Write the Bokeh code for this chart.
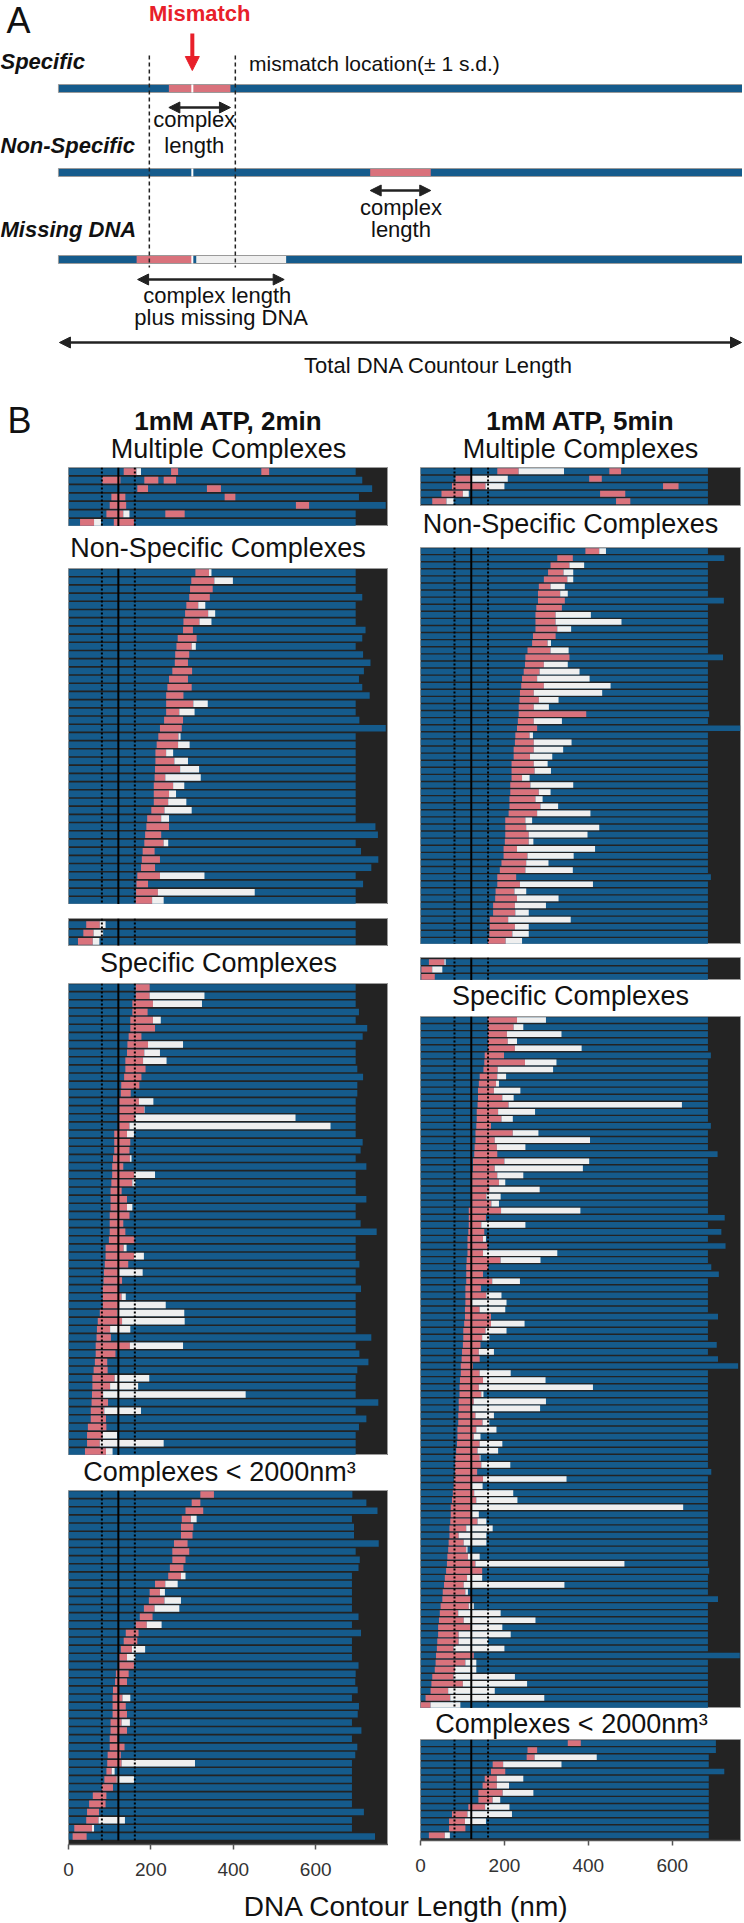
from bokeh.plotting import figure
from bokeh.models import Range1d, FixedTicker, Arrow, NormalHead, Spacer
from bokeh.layouts import column, row
from bokeh.embed import file_html
from bokeh.resources import INLINE
from bokeh.core.properties import value

# ---------------- colours / fonts ----------------
BLUE = "#155b8c"
PINK = "#d9727c"
WHITE = "#efefef"
DARK = "#232323"
RED = "#e8202a"
FONT = "Liberation Sans"
MID = 0.35   # distance from baseline to text middle, in em

# ---------------- data ----------------
MM_MEAN = 121      # mismatch location (nm)
MM_SD = 40         # +- 1 s.d. (nm)
TICKS = [0, 200, 400, 600]

# Panel A schematic (arbitrary contour units)
SCH_TOTAL = 700
SCH_MISMATCH = 137
SCH_SD = 44
SCH_SPEC = (113, 176)
SCH_NONSPEC = (319, 381)
SCH_MISS_COMPLEX = (80, 137)
SCH_MISS_GAP = (141, 233)

# 2 min, multiple complexes (segments)
LM_row = [0, 0, 0, 0, 1, 1, 1, 2, 2, 3, 3, 4, 4, 5, 5, 5, 6, 6, 6]
LM_left = [134, 165, 249, 468, 82, 184, 231, 167, 336, 104, 379, 100, 552, 92, 133, 235, 28, 62, 110]
LM_right = [165, 176, 266, 487, 126, 218, 261, 193, 370, 138, 405, 140, 584, 133, 148, 282, 62, 79, 159]
LM_kind = ["c", "m", "c", "c", "c", "c", "c", "c", "c", "c", "c", "c", "c", "c", "m", "c", "c", "m", "c"]
LM_dna = [697, 713, 737, 705, 770, 697, 697]

# 2 min, non-specific complexes
LNS_start = [308, 298, 295, 293, 286, 283, 279, 278, 265, 262, 259, 258, 252, 244, 240, 237, 237, 237, 232, 222,
             218, 214, 211, 211, 210, 209, 207, 207, 207, 201, 191, 189, 186, 184, 180, 178, 176, 167, 165, 164, 163]
LNS_cend = [341, 354, 350, 343, 315, 339, 318, 302, 311, 299, 293, 290, 300, 290, 299, 279, 303, 269, 278, 275,
            267, 266, 237, 257, 271, 235, 254, 244, 242, 233, 225, 244, 225, 231, 209, 222, 210, 222, 193, 217, 203]
LNS_mend = [347, 399, 350, 343, 332, 356, 347, 302, 311, 309, 293, 290, 300, 290, 299, 279, 338, 306, 278, 275,
            272, 294, 254, 290, 317, 321, 281, 261, 286, 299, 244, 244, 225, 242, 209, 222, 210, 330, 193, 452, 231]
LNS_dna = [697, 697, 697, 713, 697, 697, 697, 721, 713, 697, 715, 733, 717, 705, 713, 731, 697, 697, 706, 770,
           697, 697, 697, 697, 697, 697, 697, 697, 697, 697, 697, 745, 751, 697, 710, 752, 735, 697, 715, 697, 697]

# 2 min, small group
LSM_start = [43, 36, 23]
LSM_cend = [76, 61, 59]
LSM_mend = [90, 84, 75]
LSM_dna = [697, 697, 697]

# 2 min, specific complexes
LSP_start = [163, 163, 155, 155, 150, 150, 146, 143, 142, 138, 138, 135, 128, 127, 123, 123, 123, 123, 111, 111,
             111, 108, 106, 106, 104, 102, 102, 102, 100, 100, 100, 98, 90, 90, 88, 86, 85, 83, 83, 83,
             76, 71, 69, 68, 66, 66, 64, 61, 58, 58, 57, 56, 54, 54, 47, 45, 45, 40]
LSP_cend = [197, 197, 205, 192, 205, 210, 177, 193, 184, 181, 187, 177, 172, 151, 171, 184, 162, 148, 142, 150,
            148, 149, 133, 159, 155, 129, 142, 142, 148, 133, 138, 160, 134, 159, 145, 123, 130, 123, 129, 123,
            118, 130, 101, 103, 149, 114, 94, 95, 112, 101, 84, 96, 87, 91, 92, 83, 76, 91]
LSP_mend = [197, 330, 324, 192, 224, 210, 177, 278, 222, 238, 187, 177, 172, 151, 206, 185, 551, 636, 159, 150,
            148, 153, 133, 210, 162, 129, 142, 155, 148, 133, 138, 160, 141, 183, 145, 180, 130, 123, 139, 236,
            281, 282, 150, 103, 278, 114, 94, 95, 196, 169, 430, 96, 176, 91, 92, 118, 231, 107]
LSP_dna = [697, 697, 697, 705, 697, 725, 714, 697, 697, 697, 701, 715, 701, 701, 697, 697, 697, 697, 697, 714,
           709, 697, 723, 697, 697, 697, 723, 697, 697, 709, 748, 697, 697, 697, 706, 697, 697, 710, 697, 697,
           697, 697, 697, 735, 697, 706, 728, 701, 697, 697, 697, 752, 697, 723, 705, 697, 697, 697]

# 2 min, complexes < 2000 nm^3
LB_start = [320, 299, 284, 275, 273, 273, 256, 252, 252, 246, 242, 210, 197, 195, 183, 173, 163, 139, 134, 127,
            123, 123, 115, 113, 108, 107, 107, 107, 102, 102, 100, 100, 95, 94, 92, 87, 81, 59, 50, 45, 43, 14, 10]
LB_cend = [353, 320, 327, 297, 303, 301, 289, 293, 284, 279, 273, 235, 222, 233, 209, 204, 190, 170, 167, 154,
           142, 159, 146, 142, 120, 131, 139, 142, 129, 142, 119, 136, 127, 129, 105, 117, 108, 92, 90, 74, 73, 57, 44]
LB_mend = [353, 320, 327, 311, 303, 301, 289, 293, 284, 279, 284, 265, 234, 273, 269, 204, 226, 170, 167, 186,
           162, 159, 146, 142, 120, 150, 139, 142, 149, 142, 119, 136, 127, 307, 112, 159, 108, 92, 90, 74, 137, 62, 44]
LB_dna = [689, 723, 750, 688, 693, 693, 753, 697, 707, 704, 688, 688, 688, 688, 688, 704, 688, 710, 688, 688,
          688, 704, 697, 696, 702, 688, 705, 702, 688, 711, 688, 701, 696, 688, 688, 688, 688, 688, 688, 717, 688, 688, 744]

# 5 min, multiple complexes (segments)
RM_row = [0, 0, 0, 1, 1, 1, 2, 2, 2, 3, 3, 3, 4, 4, 4]
RM_left = [183, 234, 450, 83, 121, 402, 75, 155, 578, 50, 101, 428, 28, 62, 466]
RM_right = [234, 342, 478, 121, 208, 432, 155, 200, 615, 101, 115, 488, 62, 79, 500]
RM_kind = ["c", "m", "c", "c", "m", "c", "c", "m", "c", "c", "m", "c", "c", "m", "c"]
RM_dna = [685, 685, 685, 685, 685]

# 5 min, non-specific complexes
RNS_start = [393, 326, 310, 304, 294, 282, 280, 280, 276, 274, 274, 274, 268, 266, 255, 250, 249, 246, 242, 240,
             237, 236, 234, 234, 232, 230, 226, 225, 222, 222, 217, 217, 217, 214, 214, 212, 212, 210, 202, 202,
             202, 201, 198, 198, 193, 189, 183, 183, 179, 178, 173, 173, 165, 165, 164, 161]
RNS_cend = [426, 363, 355, 341, 350, 310, 333, 344, 337, 322, 322, 326, 322, 303, 310, 355, 294, 284, 278, 294,
            270, 282, 270, 395, 270, 278, 260, 270, 270, 261, 270, 272, 242, 262, 282, 274, 286, 278, 250, 252,
            258, 258, 230, 255, 252, 250, 228, 237, 224, 230, 225, 226, 209, 225, 219, 203]
RNS_mend = [442, 363, 390, 364, 364, 344, 351, 344, 337, 406, 479, 359, 322, 311, 353, 355, 351, 379, 403, 453,
            433, 329, 306, 395, 337, 278, 268, 360, 340, 314, 303, 311, 260, 364, 310, 291, 328, 405, 266, 426,
            398, 269, 416, 365, 305, 363, 228, 411, 252, 329, 299, 258, 358, 258, 258, 242]
RNS_dna = [685, 724, 685, 685, 685, 685, 685, 723, 685, 685, 685, 685, 685, 685, 685, 721, 685, 685, 685, 685,
           685, 685, 685, 688, 685, 762, 685, 685, 685, 685, 685, 685, 685, 685, 685, 685, 685, 685, 685, 685,
           685, 685, 685, 685, 685, 685, 692, 685, 685, 685, 685, 685, 685, 685, 685, 685]

# 5 min, small group
RSM_start = [20, 2, 2]
RSM_cend = [57, 28, 34]
RSM_mend = [60, 52, 34]
RSM_dna = [685, 685, 685]

# 5 min, specific complexes
RSP_start = [161, 161, 161, 161, 161, 153, 152, 150, 141, 139, 137, 137, 136, 134, 134, 133, 131, 131, 129, 128,
             125, 125, 123, 123, 123, 123, 123, 115, 115, 115, 114, 112, 112, 112, 110, 109, 109, 109, 107, 107,
             107, 106, 106, 104, 102, 102, 101, 99, 98, 96, 96, 94, 93, 93, 91, 91, 90, 90, 88, 88,
             87, 85, 83, 82, 82, 80, 79, 77, 75, 72, 72, 71, 69, 69, 67, 66, 64, 63, 61, 58,
             56, 53, 52, 48, 46, 44, 42, 42, 40, 39, 37, 36, 34, 28, 26, 24, 12, 0]
RSP_cend = [230, 222, 206, 208, 225, 199, 249, 184, 183, 180, 175, 195, 210, 185, 193, 168, 220, 177, 182, 183,
            200, 177, 183, 187, 164, 157, 169, 192, 156, 145, 152, 149, 160, 149, 191, 161, 149, 171, 144, 157,
            123, 141, 168, 168, 155, 147, 143, 139, 141, 125, 141, 149, 139, 145, 127, 121, 131, 148, 133, 127,
            141, 136, 141, 145, 135, 149, 123, 128, 133, 123, 123, 136, 109, 91, 103, 109, 113, 131, 147, 111,
            103, 107, 123, 115, 90, 103, 119, 91, 91, 79, 127, 107, 82, 79, 101, 66, 71, 24]
RSP_mend = [299, 245, 336, 230, 384, 199, 324, 316, 204, 187, 238, 222, 623, 273, 220, 168, 281, 404, 250, 183,
            402, 387, 245, 202, 284, 191, 187, 381, 156, 250, 152, 156, 160, 326, 286, 161, 149, 237, 144, 193,
            205, 202, 168, 248, 205, 164, 143, 175, 141, 125, 215, 298, 411, 150, 299, 285, 175, 164, 181, 143,
            195, 185, 143, 214, 135, 348, 148, 221, 231, 626, 139, 157, 172, 157, 157, 112, 141, 486, 147, 147,
            343, 113, 123, 127, 191, 274, 195, 215, 161, 200, 127, 133, 133, 225, 254, 177, 295, 95]
RSP_dna = [685, 685, 685, 685, 685, 692, 685, 685, 685, 685, 685, 685, 685, 685, 685, 692, 685, 685, 685, 708,
           685, 685, 685, 685, 685, 685, 685, 685, 725, 685, 717, 685, 727, 685, 685, 693, 711, 685, 685, 685,
           685, 685, 709, 685, 685, 685, 706, 685, 709, 757, 685, 685, 685, 685, 685, 685, 685, 685, 685, 685,
           685, 685, 685, 685, 693, 685, 685, 685, 685, 685, 685, 685, 685, 685, 685, 685, 685, 685, 688, 685,
           685, 685, 709, 685, 685, 685, 685, 685, 685, 685, 761, 685, 685, 685, 685, 685, 685, 685]

# 5 min, complexes < 2000 nm^3
RB_start = [351, 255, 253, 172, 168, 153, 148, 138, 138, 114, 75, 68, 68, 20]
RB_cend = [382, 278, 272, 197, 202, 182, 182, 196, 172, 154, 112, 106, 107, 58]
RB_mend = [382, 278, 420, 336, 202, 245, 211, 269, 190, 212, 218, 156, 107, 70]
RB_dna = [704, 704, 687, 687, 724, 687, 687, 687, 687, 687, 687, 687, 687, 687]

# ---------------- scales / layout constants ----------------
L_SCALE = 0.412    # px per nm, left column
R_SCALE = 0.4196   # px per nm, right column
BH = 0.8
FW = 320                       # frame width of every panel
L_ML, L_MR, L_X0 = 68, 0, 0      # left column borders / page origin
R_ML, R_MR, R_X0 = 32, 2, 388    # right column borders / page origin


def txt(p, x, y, t, size, style="normal", align="center", color="#111111"):
    p.text(x=[x], y=[y - MID * size], text=[t], text_font=value(FONT), text_font_size=f"{size}px",
           text_font_style=style, text_align=align, text_baseline="middle", text_color=color)


def band(ml, mr, x0, h, texts):
    # same border structure as the panels below it; x in page pixels
    p = figure(frame_width=FW, frame_height=h, min_border=0, min_border_left=ml, min_border_right=mr,
               x_range=Range1d(x0 + ml, x0 + ml + FW), y_range=Range1d(h, 0),
               toolbar_location=None, output_backend="svg", title=None,
               x_axis_location=None, y_axis_location=None, outline_line_color=None)
    p.grid.visible = False
    for (x, y, t, size, style) in texts:
        txt(p, x, y, t, size, style)
    return p


def mismatch_lines(p, ytop, ybot):
    xs = [MM_MEAN - MM_SD, MM_MEAN + MM_SD]
    p.segment(x0=xs, x1=xs, y0=[ytop, ytop], y1=[ybot, ybot], line_color="black",
              line_width=2, line_dash="2 2")
    p.segment(x0=[MM_MEAN], x1=[MM_MEAN], y0=[ytop], y1=[ybot], line_color="black", line_width=2)


def make_panel(n, H, scale, ml, mr, pt=0.0, pb=0.0, axis=False, mb=0):
    pitch = (H - pt - pb) / n
    ybot = n - 0.5 + pb / pitch
    ytop = -0.5 - pt / pitch
    p = figure(frame_width=FW, frame_height=H, x_range=Range1d(0, FW / scale), y_range=Range1d(ybot, ytop),
               min_border=0, min_border_left=ml, min_border_right=mr, min_border_bottom=mb,
               toolbar_location=None, output_backend="svg", title=None,
               x_axis_location="below" if axis else None, y_axis_location=None)
    p.background_fill_color = DARK
    p.border_fill_color = "white"
    p.outline_line_color = "#9a9a9a"
    p.outline_line_width = 1
    p.grid.visible = False
    if axis:
        ax = p.xaxis[0]
        ax.ticker = FixedTicker(ticks=TICKS)
        ax.axis_line_color = "#555555"
        ax.axis_line_width = 1.5
        ax.major_tick_line_color = "#555555"
        ax.major_tick_line_width = 1.5
        ax.major_tick_in = 0
        ax.major_tick_out = 5
        ax.minor_tick_line_color = None
        ax.major_label_text_font = FONT
        ax.major_label_text_font_size = "19px"
        ax.major_label_text_color = "#333333"
        ax.major_label_standoff = 13
    return p, ytop, n - 0.5


def draw_single(p, start, cend, mend, dna):
    rows = list(range(len(dna)))
    p.hbar(y=rows, left=0, right=dna, height=BH, fill_color=BLUE, line_color=None)
    p.hbar(y=rows, left=start, right=cend, height=BH, fill_color=PINK, line_color=None)
    wr = [i for i in rows if mend[i] > cend[i]]
    p.hbar(y=wr, left=[cend[i] for i in wr], right=[mend[i] for i in wr], height=BH,
           fill_color=WHITE, line_color=None)


def draw_multi(p, rws, left, right, kind, dna):
    p.hbar(y=list(range(len(dna))), left=0, right=dna, height=BH, fill_color=BLUE, line_color=None)
    for k, c in (("c", PINK), ("m", WHITE)):
        idx = [i for i, kk in enumerate(kind) if kk == k]
        p.hbar(y=[rws[i] for i in idx], left=[left[i] for i in idx], right=[right[i] for i in idx],
               height=BH, fill_color=c, line_color=None)


def single_panel(start, cend, mend, dna, H, scale, ml, mr, pt=0.0, pb=0.0, axis=False, mb=0):
    p, yt, yb = make_panel(len(dna), H, scale, ml, mr, pt, pb, axis, mb)
    draw_single(p, start, cend, mend, dna)
    mismatch_lines(p, yt, yb)
    return p


def multi_panel(rws, left, right, kind, dna, H, scale, ml, mr, pt=0.0, pb=0.0):
    p, yt, yb = make_panel(len(dna), H, scale, ml, mr, pt, pb)
    draw_multi(p, rws, left, right, kind, dna)
    mismatch_lines(p, yt, yb)
    return p


# ---------------- Panel A (plus the headings of panel B) ----------------
TW = 742
HA = 467
XA0 = -59.3
SC_A = TW / (SCH_TOTAL - XA0)


def ux(px):   # page pixel -> schematic unit (for text placement only)
    return px / SC_A + XA0


pA = figure(width=TW, height=HA, x_range=Range1d(XA0, SCH_TOTAL), y_range=Range1d(HA, 0),
            min_border=0, toolbar_location=None, output_backend="svg", title=None,
            x_axis_location=None, y_axis_location=None, outline_line_color=None)
pA.grid.visible = False
bar_y = [88, 172, 259]
pA.hbar(y=bar_y, left=0, right=SCH_TOTAL, height=8, fill_color=BLUE, line_color="#9a9a9a", line_width=1)
pA.hbar(y=bar_y, left=[SCH_SPEC[0], SCH_NONSPEC[0], SCH_MISS_COMPLEX[0]],
        right=[SCH_SPEC[1], SCH_NONSPEC[1], SCH_MISS_COMPLEX[1]], height=7, fill_color=PINK, line_color=None)
pA.hbar(y=[bar_y[2]], left=[SCH_MISS_GAP[0]], right=[SCH_MISS_GAP[1]], height=7, fill_color=WHITE, line_color=None)
pA.segment(x0=[SCH_MISMATCH] * 3, x1=[SCH_MISMATCH] * 3, y0=[b - 4 for b in bar_y], y1=[b + 4 for b in bar_y],
           line_color="white", line_width=2)
sd_x = [SCH_MISMATCH - SCH_SD, SCH_MISMATCH + SCH_SD]
pA.segment(x0=sd_x, x1=sd_x, y0=[55, 55], y1=[267, 267], line_color="#222222", line_width=1.5, line_dash="4 3")


def dbl_arrow(x0, x1, y):
    pA.add_layout(Arrow(x_start=x0, y_start=y, x_end=x1, y_end=y, line_color="#222222", line_width=2.5,
                        start=NormalHead(size=11, fill_color="#222222", line_color="#222222"),
                        end=NormalHead(size=11, fill_color="#222222", line_color="#222222")))


dbl_arrow(SCH_SPEC[0], SCH_SPEC[1], 107)
dbl_arrow(SCH_NONSPEC[0], SCH_NONSPEC[1], 190)
dbl_arrow(SCH_MISS_COMPLEX[0] + 1, SCH_MISS_GAP[1] - 2, 279)
dbl_arrow(1, SCH_TOTAL - 1, 342)
pA.add_layout(Arrow(x_start=SCH_MISMATCH, y_start=33, x_end=SCH_MISMATCH, y_end=70, line_color=RED, line_width=4,
                    end=NormalHead(size=14, fill_color=RED, line_color=RED)))

txt(pA, ux(6), 33, "A", 36, align="left")
txt(pA, 144.6, 21, "Mismatch", 22, "bold", color=RED)
txt(pA, XA0, 69, "Specific", 22, "bold italic", "left")
txt(pA, 195, 70, "mismatch location(\u00b1 1 s.d.)", 21, align="left")
txt(pA, 139, 127, "complex", 22)
txt(pA, 139, 153, "length", 22)
txt(pA, XA0, 153, "Non-Specific", 22, "bold italic", "left")
txt(pA, 350.5, 215, "complex", 22)
txt(pA, 350.5, 237, "length", 22)
txt(pA, XA0, 237, "Missing DNA", 22, "bold italic", "left")
txt(pA, 162.5, 303, "complex length", 22)
txt(pA, 166.5, 325, "plus missing DNA", 22)
txt(pA, 389, 373, "Total DNA Countour Length", 22)
# panel B headings
txt(pA, ux(7), 433, "B", 36, align="left")
txt(pA, ux(228), 430, "1mM ATP, 2min", 26, "bold")
txt(pA, ux(580), 430, "1mM ATP, 5min", 26, "bold")
txt(pA, ux(228), 458, "Multiple Complexes", 27)
txt(pA, ux(580), 458, "Multiple Complexes", 27)

# ---------------- Panel B, left column (1mM ATP, 2min) ----------------
left_col = column(
    multi_panel(LM_row, LM_left, LM_right, LM_kind, LM_dna, 59, L_SCALE, L_ML, L_MR),
    band(L_ML, L_MR, L_X0, 42, [(217.5, 31, "Non-Specific Complexes", 27, "normal")]),
    single_panel(LNS_start, LNS_cend, LNS_mend, LNS_dna, 336, L_SCALE, L_ML, L_MR),
    Spacer(width=L_ML + FW + L_MR, height=14),
    single_panel(LSM_start, LSM_cend, LSM_mend, LSM_dna, 28, L_SCALE, L_ML, L_MR, pt=2, pb=1),
    band(L_ML, L_MR, L_X0, 37, [(218, 26, "Specific Complexes", 27, "normal")]),
    single_panel(LSP_start, LSP_cend, LSP_mend, LSP_dna, 472, L_SCALE, L_ML, L_MR),
    band(L_ML, L_MR, L_X0, 35, [(219, 26, "Complexes < 2000nm\u00b3", 27, "normal")]),
    single_panel(LB_start, LB_cend, LB_mend, LB_dna, 354, L_SCALE, L_ML, L_MR, pb=4, axis=True, mb=42),
)

# ---------------- Panel B, right column (1mM ATP, 5min) ----------------
right_col = column(
    multi_panel(RM_row, RM_left, RM_right, RM_kind, RM_dna, 39, R_SCALE, R_ML, R_MR, pb=1.5),
    band(R_ML, R_MR, R_X0, 41, [(570, 27, "Non-Specific Complexes", 27, "normal")]),
    single_panel(RNS_start, RNS_cend, RNS_mend, RNS_dna, 397, R_SCALE, R_ML, R_MR),
    Spacer(width=R_ML + FW + R_MR, height=13),
    single_panel(RSM_start, RSM_cend, RSM_mend, RSM_dna, 23, R_SCALE, R_ML, R_MR, pt=1),
    band(R_ML, R_MR, R_X0, 36, [(570, 25, "Specific Complexes", 27, "normal")]),
    single_panel(RSP_start, RSP_cend, RSP_mend, RSP_dna, 692, R_SCALE, R_ML, R_MR),
    band(R_ML, R_MR, R_X0, 31, [(571, 25, "Complexes < 2000nm\u00b3", 27, "normal")]),
    single_panel(RB_start, RB_cend, RB_mend, RB_dna, 101, R_SCALE, R_ML, R_MR, pb=1.5, axis=True, mb=46),
)

# ---------------- bottom axis title ----------------
label = figure(width=TW, height=36, x_range=Range1d(0, TW), y_range=Range1d(36, 0), min_border=0,
               toolbar_location=None, output_backend="svg", title=None,
               x_axis_location=None, y_axis_location=None, outline_line_color=None)
label.grid.visible = False
txt(label, 406, 30, "DNA Contour Length (nm)", 28)

layout = column(pA, row(left_col, right_col), label)

open("out.html", "w").write(file_html(layout, INLINE))
